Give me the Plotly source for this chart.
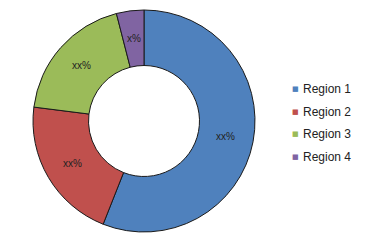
import math
import plotly.graph_objects as go

categories = ["Region 1", "Region 2", "Region 3", "Region 4"]
values = [56, 21, 19, 4]
slice_labels = ["xx%", "xx%", "xx%", "x%"]
colors = ["#4F81BD", "#C0504D", "#9BBB59", "#8064A2"]

W, H = 387, 246
px_left, px_right, px_top, px_bottom = 33, 255, 10, 232
hole = 0.5

fig = go.Figure(go.Pie(
    labels=categories,
    values=values,
    text=slice_labels,
    textinfo="none",
    hole=hole,
    sort=False,
    direction="clockwise",
    rotation=0,
    showlegend=False,
    marker=dict(colors=colors, line=dict(color="#1a1a1a", width=1)),
    domain=dict(x=[px_left/W, px_right/W], y=[1 - px_bottom/H, 1 - px_top/H]),
))

annotations = []

# slice labels placed at the middle of each ring segment, derived from the values
cx = (px_left + px_right) / 2
cy = (px_top + px_bottom) / 2
R = min(px_right - px_left, px_bottom - px_top) / 2
rmid = R * (1 + hole) / 2
total = sum(values)
cum = 0
for v, lab in zip(values, slice_labels):
    mid = (cum + v / 2) / total * 2 * math.pi
    cum += v
    x = cx + rmid * math.sin(mid)
    y = cy - rmid * math.cos(mid)
    annotations.append(dict(
        x=x / W, y=1 - y / H, xref="paper", yref="paper",
        xanchor="center", yanchor="middle", text=lab, showarrow=False,
        font=dict(family="Liberation Sans, Arial, sans-serif", size=10, color="#222222"),
    ))

# legend drawn as text: coloured square glyph + label
leg_top, leg_step = 89, 22.6
for i, (name, col) in enumerate(zip(categories, colors)):
    yp = 1 - (leg_top + leg_step * i) / H
    annotations.append(dict(
        x=295/W, y=yp, xref="paper", yref="paper", xanchor="center", yanchor="middle",
        text="■", showarrow=False,
        font=dict(family="DejaVu Sans", size=7, color=col),
    ))
    annotations.append(dict(
        x=301/W, y=yp, xref="paper", yref="paper", xanchor="left", yanchor="middle",
        text=name, showarrow=False,
        font=dict(family="Liberation Sans, Arial, sans-serif", size=12, color="#222222"),
    ))

fig.update_layout(
    width=W, height=H,
    margin=dict(l=0, r=0, t=0, b=0),
    paper_bgcolor="white",
    plot_bgcolor="white",
    showlegend=False,
    annotations=annotations,
)

fig.write_html("out.html")
